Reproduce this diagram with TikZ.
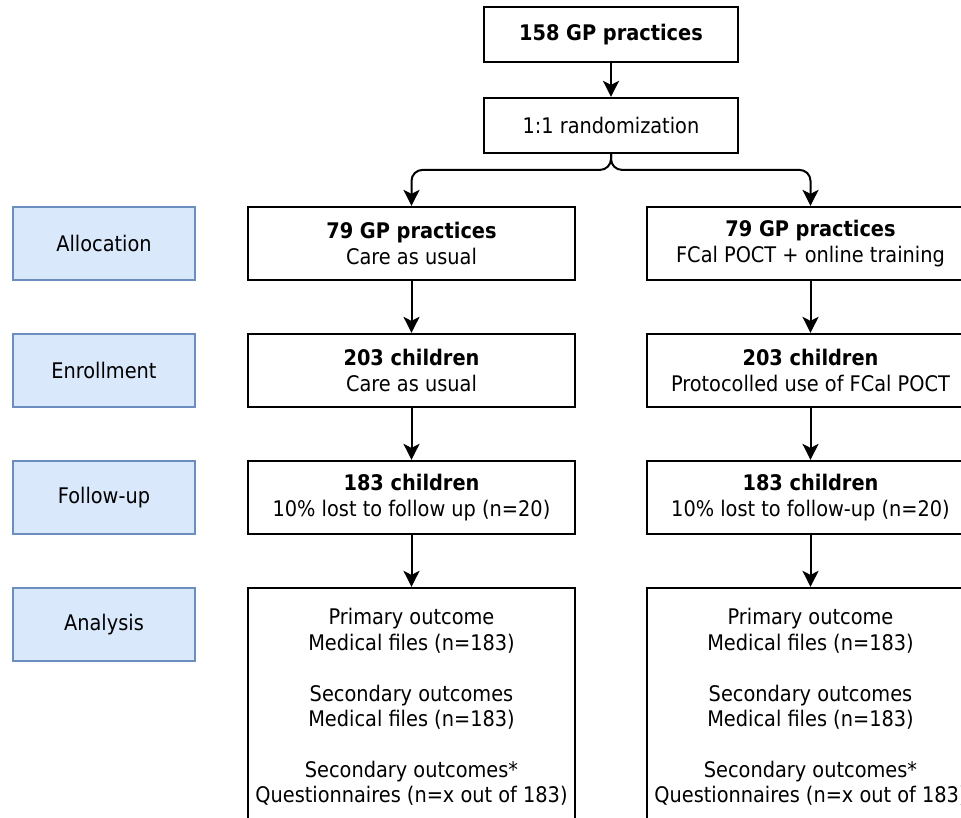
\documentclass[tikz,border=0pt]{standalone}
\usepackage{fontspec}
\setmainfont{DejaVu Sans Condensed}
\usetikzlibrary{arrows.meta}
\definecolor{stagefill}{HTML}{DAE8FC}
\definecolor{stageline}{HTML}{6C8EBF}
\tikzset{
  flow/.style={-{Stealth[length=16pt,width=16pt,inset=4pt]},line width=2pt},
  box/.style={rectangle,draw,line width=2.2pt,align=center,font=\fontsize{21.5}{26}\selectfont},
  stage/.style={rectangle,draw=stageline,fill=stagefill,line width=1.6pt,minimum width=182pt,minimum height=73pt,font=\fontsize{21.5}{26}\selectfont}
}
\begin{document}
\begin{tikzpicture}[x=1pt,y=-1pt]
\clip (0,0) rectangle (961,818);
\begin{scope}[every node/.style={stage}]
\node (Allocation) at (104,243.5) {Allocation};
\node (Enrollment) at (104,370.5) {Enrollment};
\node (Followup) at (104,497.5) {Follow-up};
\node (Analysis) at (104,624.5) {Analysis};
\end{scope}

\begin{scope}[every node/.style={box,minimum width=254pt,minimum height=55pt}]
\node (Total) at (611,34.5) {\bfseries 158 GP practices};
\node (Random) at (611,125.5) {1:1 randomization};
\end{scope}

\begin{scope}[every node/.style={box,minimum width=327pt,minimum height=73pt}]
\node (PracUsual) at (411.5,243.5) {\bfseries 79 GP practices\\Care as usual};
\node (PracPOCT) at (810.5,243.5) {\bfseries 79 GP practices\\FCal POCT + online training};
\node (EnrolUsual) at (411.5,370.5) {\bfseries 203 children\\Care as usual};
\node (EnrolPOCT) at (810.5,370.5) {\bfseries 203 children\\Protocolled use of FCal POCT};
\node (FollowUsual) at (411.5,497.5) {\bfseries 183 children\\10\% lost to follow up (n=20)};
\node (FollowPOCT) at (810.5,497.5) {\bfseries 183 children\\10\% lost to follow-up (n=20)};
\end{scope}

\begin{scope}[every node/.style={box,minimum width=327pt,minimum height=238pt,font=\fontsize{21.5}{25.4}\selectfont}]
\node (AnalysisUsual) at (411.5,707) {Primary outcome\\Medical files (n=183)\\[25.4pt]Secondary outcomes\\Medical files (n=183)\\[25.4pt]Secondary outcomes*\\Questionnaires (n=x out of 183)};
\node (AnalysisPOCT) at (810.5,707) {Primary outcome\\Medical files (n=183)\\[25.4pt]Secondary outcomes\\Medical files (n=183)\\[25.4pt]Secondary outcomes*\\Questionnaires (n=x out of 183)};
\end{scope}

\begin{scope}[every edge/.style={draw,flow}]
    \path (Total) edge (Random);
    \path (PracUsual) edge (EnrolUsual);
    \path (PracPOCT) edge (EnrolPOCT);
    \path (EnrolUsual) edge (FollowUsual);
    \path (EnrolPOCT) edge (FollowPOCT);
    \path (FollowUsual) edge (AnalysisUsual);
    \path (FollowPOCT) edge (AnalysisPOCT);
\end{scope}
\draw[flow,rounded corners=11pt] (Random.south) |- ([yshift=36pt]PracUsual.north) -- (PracUsual.north);
\draw[flow,rounded corners=11pt] (Random.south) |- ([yshift=36pt]PracPOCT.north) -- (PracPOCT.north);
\end{tikzpicture}
\end{document}
